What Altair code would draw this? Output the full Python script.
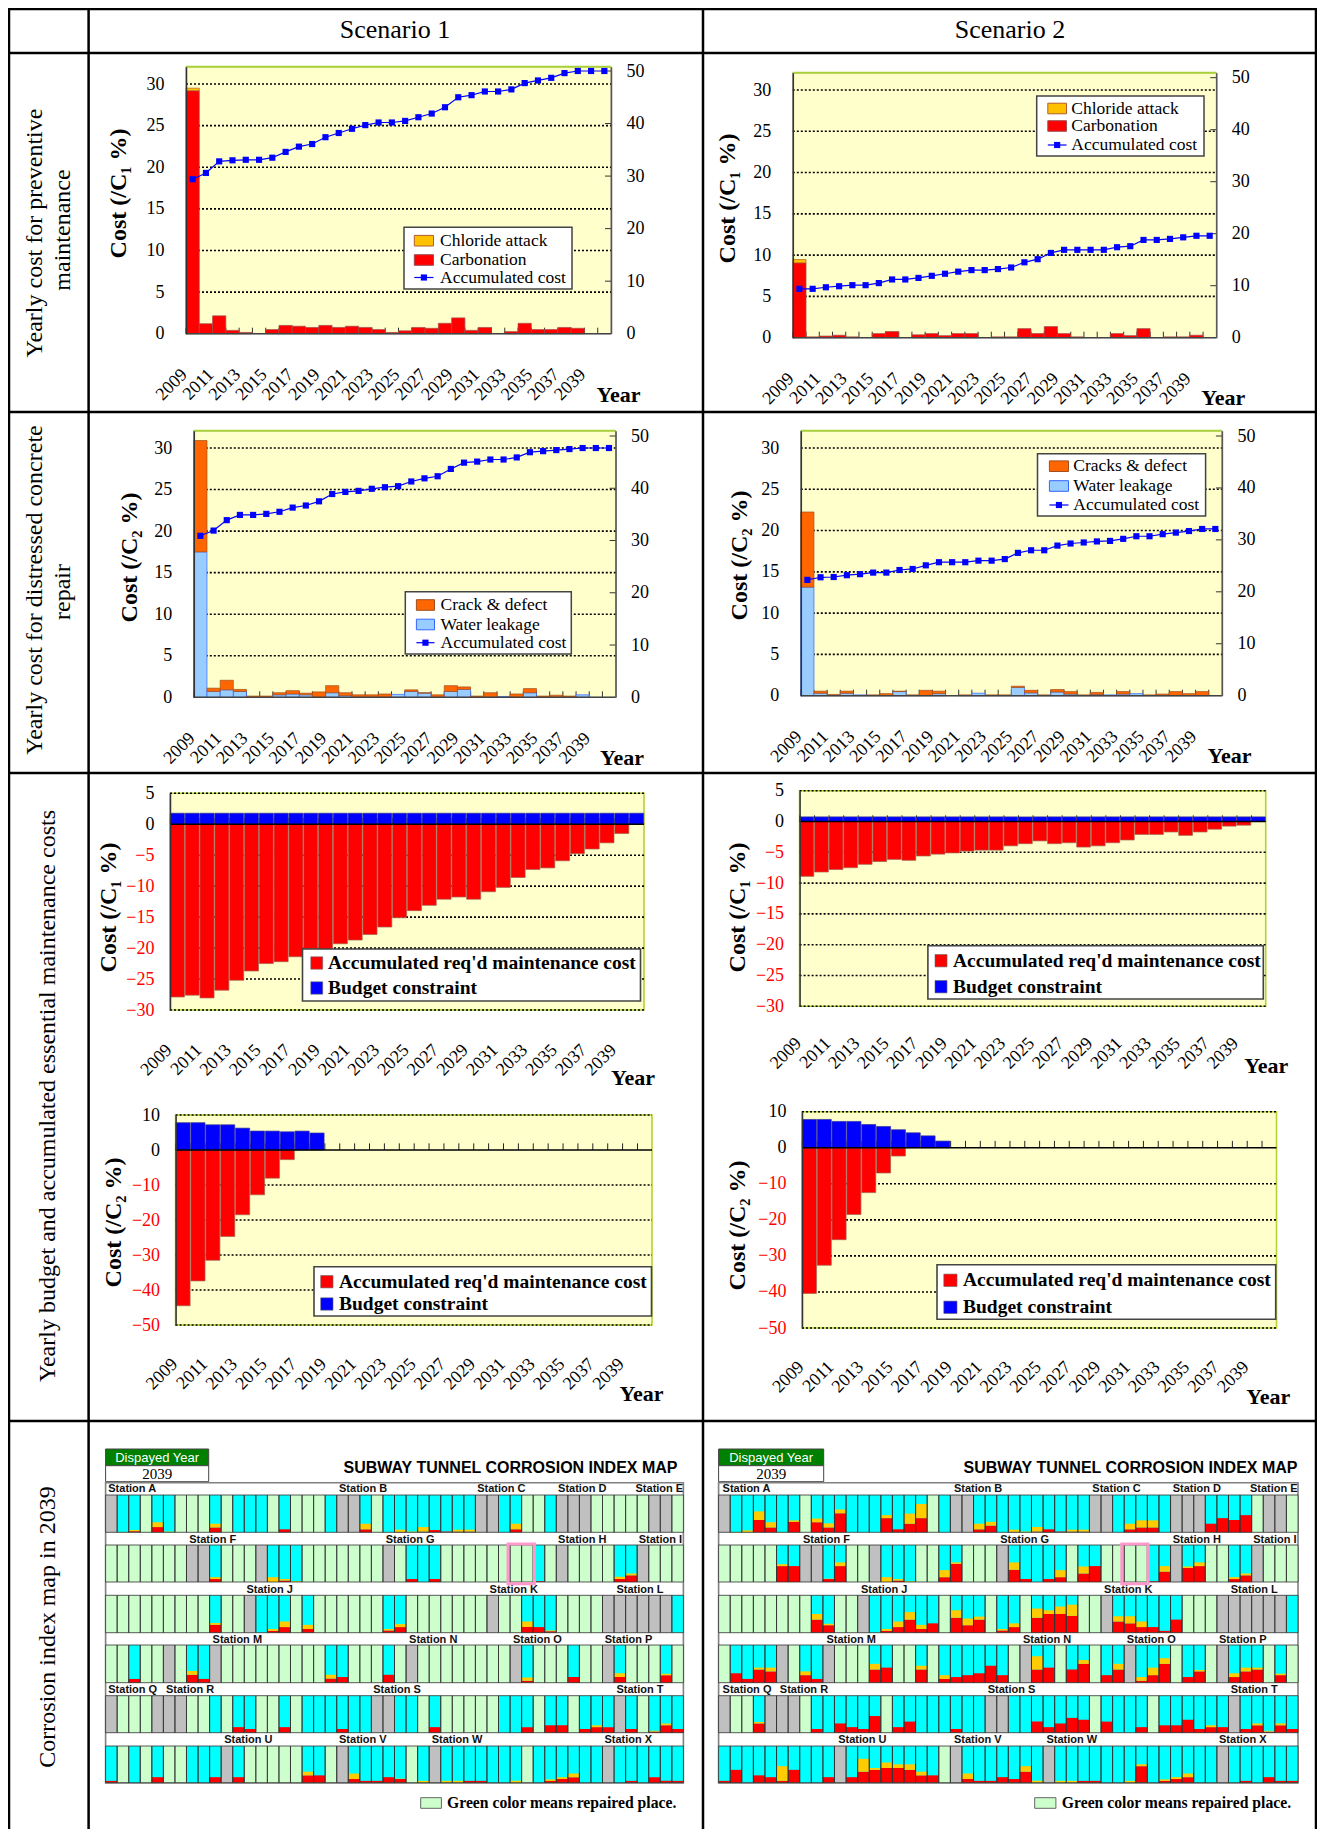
import altair as alt
import pandas as pd

# ---------- data: yearly cost panels ----------
years = [str(y) for y in range(2009, 2041)]
odd_years = [str(y) for y in range(2009, 2040, 2)]

s1_carbonation = [29.2,1.2,2.15,0.4,0.15,0,0.5,1.0,0.9,0.75,1.0,0.75,0.9,0.75,0.5,0.15,0.35,0.75,0.65,1.25,1.9,0.4,0.75,0,0.25,1.25,0.5,0.5,0.75,0.65,0,0]
s1_chloride = [0.3]+[0]*31
s1_accum = [29.4,30.6,32.8,33.0,33.1,33.1,33.5,34.6,35.6,36.1,37.4,38.2,39.0,39.7,40.2,40.2,40.5,41.2,41.9,43.1,45.0,45.4,46.1,46.1,46.5,47.7,48.2,48.7,49.6,50,50,50]

s2_carbonation = [9.07,0.1,0.2,0.3,0.1,0,0.5,0.75,0,0.35,0.5,0.25,0.5,0.5,0,0.1,0.1,1.1,0.5,1.35,0.5,0.1,0,0,0.5,0.25,1.1,0,0.1,0.1,0.3,0]
s2_chloride = [0.4]+[0]*31
s2_accum = [9.4,9.4,9.7,9.9,10.1,10.1,10.5,11.2,11.2,11.5,11.9,12.3,12.7,13.0,13.0,13.2,13.5,14.5,15.1,16.3,16.9,16.9,16.9,16.9,17.4,17.6,18.8,18.8,19.0,19.3,19.6,19.6]

s1_leak = [17.5,0.7,0.9,0.7,0,0,0.3,0.4,0.3,0,0.55,0.2,0,0,0,0.35,0.7,0.5,0,0.7,0.95,0,0,0.1,0,0.55,0,0,0,0.3,0,0]
s1_crack = [13.4,0.4,1.15,0.25,0.15,0.15,0.25,0.4,0.2,0.65,0.85,0.35,0.3,0.3,0.4,0,0.2,0.05,0.3,0.7,0.3,0.15,0.55,0,0.4,0.5,0.15,0.25,0.15,0,0,0]
s1_accum2 = [30.9,31.9,33.9,34.9,34.9,35.1,35.5,36.3,36.7,37.5,38.9,39.3,39.5,39.9,40.2,40.4,41.3,41.9,42.3,43.7,44.9,45.1,45.5,45.5,45.9,46.9,47.1,47.3,47.5,47.7,47.7,47.7]

s2_leak = [13.15,0.3,0,0.3,0.1,0,0,0.5,0,0,0.25,0,0,0.3,0,0,1.0,0.35,0,0.45,0.2,0,0.15,0.1,0.2,0.25,0,0,0,0,0,0]
s2_crack = [9.1,0.25,0.15,0.25,0,0.1,0.25,0.05,0.1,0.65,0.3,0,0.1,0,0.1,0.1,0.15,0.3,0.1,0.3,0.3,0.1,0.25,0,0.3,0,0.1,0.2,0.5,0.25,0.5,0]
s2_accum2 = [22.3,22.8,22.85,23.2,23.4,23.7,23.7,24.2,24.4,25.1,25.7,25.7,25.7,26.0,26.0,26.3,27.5,28.0,28.0,28.9,29.3,29.5,29.7,29.8,30.2,30.7,30.7,31.1,31.4,31.7,32.1,32.1]

# ---------- data: budget panels ----------
s1_req1 = [27.9,27.6,28.05,26.8,25.2,23.7,22.5,22.2,21.4,20.1,20.2,19.3,18.7,17.8,16.6,15.1,13.95,13.1,12.1,11.75,12.1,10.9,10.2,8.6,7.3,7.05,5.9,4.75,4.0,3.0,1.5,0]
s1_bud1 = [1.78]*32
s2_req1 = [8.9,8.2,7.8,7.5,6.95,6.5,6.15,6.3,5.6,5.3,5.1,4.8,4.65,4.65,3.95,3.6,3.15,3.6,3.45,4.15,3.95,3.45,3.0,2.1,2.1,1.7,2.25,1.7,1.25,0.75,0.6,0]
s2_bud1 = [0.75]*32
s1_req2 = [44.5,37.4,31.5,24.7,18.5,12.8,8.05,2.75]+[0]*24
s1_bud2 = [7.8,7.8,7.2,7.2,6.25,5.4,5.4,5.2,5.4,4.85]+[0]*22
s2_req2 = [40.4,32.6,25.5,18.5,12.45,7.0,2.3]+[0]*25
s2_bud2 = [7.85,7.85,7.3,7.3,6.45,5.9,5.0,4.15,3.3,1.85]+[0]*22

# ---------- data: corrosion index map ---------- G grey, L repaired, C in service; {cell:(yellow,red)}
map1_kinds = ["GCCLCCLLLC LCCCLCLLLC GGCLCCCCCC CCGGCCLLCG GGLLLLLGGL",
              "LLLLLLLGGC LLLGCCCLLL LLLLGLCCCL LLLLLLLCLG LLLLCCGLLL",
              "LLLLLLLLLC LLGCCCLCLL LLLLCCLLLL LLLGLLCCCL LLLGGGGGGC",
              "LLCLLGLCCG LLLLLLLLLC CLLLCLGLLL LLLLLGCLLL CLLGCLLLCL",
              "GLLLGGGLLC LCCLLCLCCC CCCGGCCLCL LLLLCCCLCC LCCCGCLCCC",
              "CLCLCLLCCC GCLLLLLCCL GCCCCCLCGC CCCCCCLCCC CCCGCCCCCC"]
map1_levels = [
 {1:(1,0),2:(3,3),4:(13,14),5:(2,0),9:(10,13),15:(0,8),22:(15,8),25:(6,1),26:(2,0),27:(12,2),28:(0,6),29:(0,2),30:(5,2),31:(5,2),35:(15,8)},
 {9:(5,8),14:(13,0),15:(4,4),16:(2,0),26:(0,8),28:(0,8),37:(0,2),44:(6,8),45:(5,18)},
 {9:(5,21),14:(5,5),15:(15,15),17:(11,10),24:(4,6),25:(8,15),36:(15,15),37:(0,15),38:(2,4)},
 {2:(0,10),7:(10,21),8:(0,10),19:(10,11),20:(0,15),24:(0,21),36:(9,5),40:(0,15),44:(10,15),48:(4,20)},
 {11:(0,15),12:(0,10),15:(0,15),20:(0,10),28:(0,15),36:(0,15),38:(0,20),39:(0,20),41:(0,10),42:(5,15),43:(0,15),45:(0,10),47:(2,3),48:(5,20),49:(0,10)},
 {0:(0,5),4:(0,15),9:(0,15),11:(0,15),17:(10,20),18:(0,20),21:(15,10),22:(0,5),23:(0,5),24:(0,15),25:(1,10),27:(5,0),29:(5,0),30:(5,0),31:(0,5),32:(0,5),35:(5,0),38:(4,5),39:(5,10),40:(10,15),45:(0,5),47:(0,15),48:(0,5),49:(0,5)},
]
map2_kinds = ["GCCCCCCLCC CCCCCCCCLC GGCCCCCCCC CCGGCCCCCG GGCCCCLGGL",
              "LLLLLCCGGC CLLGCCCLLC CLLLGCCCCC LCCLLLLCCG CCLLCCGLLL",
              "LLLLLLLLCC LLGCCCCCCL CCCLCCLCCC CLLGCCCCCC LLLGGGGGGC",
              "LCCCCGLCCG LLLCCLLCLC CCCCCLGCCL CCLCCGCCCL CCLGCCCLCL",
              "GLLCGGGLCC CCCCLCCCCC CCCGGCCCCC CCLCCCCLCC CCCCGCCCCC",
              "CCCCCCCCCC GCCCCCCCCL GCCCCCCCGC CCCCCCCCCC CCCGCCCCCC"]
map2_levels = [
 {1:(1,0),2:(5,0),3:(23,33),4:(14,13),5:(1,0),6:(4,28),8:(10,27),9:(11,13),10:(10,51),14:(8,38),15:(0,8),16:(27,23),17:(38,38),22:(15,8),23:(10,18),25:(6,1),26:(2,0),27:(12,2),28:(0,8),29:(0,2),30:(5,2),31:(5,2),35:(15,8),36:(19,13),37:(19,13),42:(0,23),43:(0,38),44:(0,33),45:(0,46)},
 {5:(5,43),6:(0,43),9:(1,8),10:(10,43),14:(13,0),15:(4,4),16:(2,0),19:(19,13),20:(4,49),25:(20,33),26:(0,8),28:(0,8),29:(19,13),31:(19,23),32:(0,43),37:(0,2),38:(15,28),40:(4,38),41:(10,43),44:(5,8),45:(5,18)},
 {8:(15,35),9:(4,20),14:(5,5),15:(15,15),16:(20,35),17:(11,10),18:(0,25),20:(20,40),21:(18,20),22:(8,35),24:(4,6),25:(10,15),27:(25,40),28:(10,50),29:(20,50),30:(30,45),34:(14,30),35:(19,25),36:(15,15),37:(0,15),38:(0,5),39:(0,35)},
 {1:(0,25),2:(0,10),3:(5,35),4:(10,30),7:(10,20),8:(0,10),13:(15,35),14:(0,40),17:(10,35),19:(10,10),20:(0,15),21:(0,20),22:(0,25),23:(0,45),24:(0,20),27:(35,35),28:(0,40),30:(0,35),31:(10,50),33:(0,20),34:(15,35),36:(10,5),37:(20,20),38:(15,50),40:(0,15),41:(4,30),44:(10,15),45:(10,30),46:(5,35),48:(4,20)},
 {3:(4,25),8:(0,10),10:(0,25),11:(0,15),12:(0,10),13:(0,45),15:(0,15),16:(0,30),20:(0,10),27:(0,30),28:(0,15),29:(0,25),30:(0,40),31:(0,35),33:(0,30),36:(0,15),38:(0,20),39:(0,20),40:(0,35),41:(0,10),42:(5,15),43:(0,15),45:(0,10),46:(5,20),47:(2,3),48:(5,20),49:(0,10)},
 {0:(0,5),1:(0,35),3:(0,20),4:(0,15),5:(40,5),6:(0,35),9:(0,15),11:(0,15),12:(35,30),13:(5,35),14:(15,40),15:(10,40),16:(15,35),17:(10,20),18:(0,20),21:(15,10),22:(0,5),23:(0,5),24:(0,15),25:(0,10),26:(15,30),27:(5,0),29:(5,0),30:(5,0),31:(0,5),32:(0,5),35:(5,0),36:(5,45),38:(4,5),39:(5,10),40:(10,15),45:(0,5),47:(0,15),48:(0,5),49:(0,5)},
]
station_rows = [[("Station A",47),("Station B",640),("Station C",995),("Station D",1203),("Station E",1402)],
                [("Station F",255),("Station G",760),("Station H",1203),("Station I",1410)],
                [("Station J",402),("Station K",1027),("Station L",1353)],
                [("Station M",315),("Station N",820),("Station O",1087),("Station P",1323)],
                [("Station Q",47),("Station R",195),("Station S",728),("Station T",1353)],
                [("Station U",345),("Station V",640),("Station W",878),("Station X",1322)]]
station_rows2 = [[("Station A",32),("Station B",622),("Station C",975),("Station D",1180),("Station E",1377)],
                 [("Station F",237),("Station G",740),("Station H",1180),("Station I",1385)],
                 [("Station J",385),("Station K",1005),("Station L",1328)],
                 [("Station M",297),("Station N",798),("Station O",1063),("Station P",1298)],
                 [("Station Q",32),("Station R",178),("Station S",708),("Station T",1328)],
                 [("Station U",327),("Station V",622),("Station W",858),("Station X",1298)]]

# ---------- helpers ----------
SERIF = "Liberation Serif"
SANS = "Liberation Sans"
O = 8
W, H = 1309, 1821
one = alt.Data(values=[{"a": 1}])
layers = []

def vrect(x0, y0, x1, y1, **mk):
    layers.append(alt.Chart(one).mark_rect(**mk).encode(
        x=alt.value(x0 - O), x2=alt.value(x1 - O), y=alt.value(y0 - O), y2=alt.value(y1 - O)))

def vrule(x0, y0, x1, y1, **mk):
    layers.append(alt.Chart(one).mark_rule(**mk).encode(
        x=alt.value(x0 - O), x2=alt.value(x1 - O), y=alt.value(y0 - O), y2=alt.value(y1 - O)))

def vtext(s, x, y, **mk):
    mk.setdefault("font", SERIF)
    mk.setdefault("baseline", "middle")
    mk.setdefault("color", "#000000")
    layers.append(alt.Chart(one).mark_text(**mk).encode(
        x=alt.value(x - O), y=alt.value(y - O), text=alt.value(s)))

def xscale(x0, x1, pad=0.0):
    return alt.Scale(type="band", domain=years, range=[x0 - O, x1 - O],
                     paddingInner=pad, paddingOuter=pad / 2)

def xaxis(x_pad, ybot, year_xy):
    return alt.Axis(values=odd_years, orient="bottom", bandPosition=0, labelAngle=315, labelAlign="right",
                    labelBaseline="middle", labelPadding=x_pad + 4, labelOffset=-8, tickSize=0, domain=False,
                    grid=False, offset=-(H - (ybot - O)), labelOverlap=False, zindex=1,
                    labelFontSize=18, title="Year", titleX=year_xy[0] - O, titleY=year_xy[1] - ybot,
                    titleAngle=0, titleAlign="center", titleBaseline="middle",
                    titleFontSize=22, titleFontWeight="bold")

def yaxis(vals, x0, pad, title, title_xy, colored=False):
    kw = {}
    if colored:
        kw["labelColor"] = alt.expr("datum.value < 0 ? '#ff0000' : '#000000'")
    return alt.Axis(values=vals, orient="left", offset=-(x0 - O), tickSize=0, labelPadding=pad,
                    grid=False, domainColor="#333333", domainWidth=1.5, labelOverlap=False, zindex=1,
                    labelFontSize=18, title=title, titleX=title_xy[0] - x0, titleY=title_xy[1] - O,
                    titleAngle=270, titleAlign="center", titleBaseline="middle",
                    titleFontSize=24, titleFontWeight="bold", **kw)

def year_frame(**cols):
    d = pd.DataFrame(cols)
    d["year"] = years
    return d

def stacked_bars(df, lo, hi, col, xs, ys, stroke, x_axis=None, y_axis=None, opacity=1):
    return alt.Chart(df).mark_bar(color=col, stroke=stroke, strokeWidth=0.7, opacity=opacity).encode(
        x=alt.X("year:O", scale=xs, axis=x_axis),
        y=alt.Y(f"{lo}:Q", scale=ys, axis=y_axis),
        y2=alt.Y2(f"{hi}:Q"))

def cost_panel(x0, x1, ytop, ybot, y30, y50, lower, upper, accum, lo_c, lo_s, up_c, up_s,
               title, title_xy, year_xy, lpad, names, box, sw, txt_x, rows_y, ln_y, xpad=34):
    vrect(x0, ytop, x1, ybot, fill="#FFFFCC", stroke="#999999", strokeWidth=1)
    vrule(x0, ytop, x1, ytop, stroke="#A9D13B", strokeWidth=2)
    lmax = 30 * (ybot - ytop) / (ybot - y30)
    rmax = 50 * (ybot - ytop) / (ybot - y50)
    xs = xscale(x0, x1)
    ys = alt.Scale(domain=[0, lmax], range=[ybot - O, ytop - O], nice=False, zero=False)
    yr = alt.Scale(domain=[0, rmax], range=[ybot - O, ytop - O], nice=False, zero=False)
    major = [0, 5, 10, 15, 20, 25, 30]
    layers.append(alt.Chart(pd.DataFrame({"v": major[1:]})).mark_rule(
        stroke="#000000", strokeWidth=1.6, strokeDash=[2, 2]).encode(
        x=alt.value(x0 - O), x2=alt.value(x1 - O), y=alt.Y("v:Q", scale=ys, axis=None)))
    layers.append(alt.Chart(pd.DataFrame({"v": [10, 20, 30, 40, 50]})).mark_rule(
        stroke="#333333", strokeWidth=1).encode(
        x=alt.value(x1 - 6 - O), x2=alt.value(x1 - O), y=alt.Y("v:Q", scale=yr, axis=None)))
    d = year_frame(l0=[0] * 32, l1=lower, u1=[a + b for a, b in zip(lower, upper)], t=accum,
                   t0=[0] * 32, th=[6 / ((ybot - y30) / 30)] * 32)
    layers.append(alt.Chart(d).mark_rule(stroke="#333333", strokeWidth=1).encode(
        x=alt.X("year:O", scale=xs, axis=None, bandPosition=0),
        y=alt.Y("t0:Q", scale=ys, axis=None), y2=alt.Y2("th:Q")))
    nz = d
    layers.append(stacked_bars(nz[nz.l1 > 0], "l0", "l1", lo_c, xs, ys, lo_s))
    layers.append(stacked_bars(nz[nz.u1 > nz.l1], "l1", "u1", up_c, xs, ys, up_s))
    layers.append(alt.Chart(d).mark_bar(opacity=0).encode(
        x=alt.X("year:O", scale=xs, axis=xaxis(xpad, ybot, year_xy)),
        y=alt.Y("l0:Q", scale=ys, axis=yaxis(major, x0, lpad, title, title_xy)),
        y2=alt.Y2("t0:Q")))
    layers.append(alt.Chart(pd.DataFrame({"v": [0]})).mark_rule(stroke="#444444", strokeWidth=1.4).encode(
        x=alt.value(x0 - O), x2=alt.value(x1 - O), y=alt.Y("v:Q", scale=ys, axis=None)))
    layers.append(alt.Chart(d).mark_line(color="#0000FF", strokeWidth=1.2).encode(
        x=alt.X("year:O", scale=xs, axis=None),
        y=alt.Y("t:Q", scale=yr, axis=alt.Axis(values=[0, 10, 20, 30, 40, 50], orient="right",
                offset=-(W - (x1 - O)), tickSize=0, labelPadding=15, grid=False, domainColor="#555555",
                domainWidth=1.5, title=None, labelFontSize=18, labelOverlap=False, zindex=1))))
    layers.append(alt.Chart(d).mark_square(color="#0000FF", size=38, opacity=1).encode(
        x=alt.X("year:O", scale=xs, axis=None), y=alt.Y("t:Q", scale=yr, axis=None)))
    # legend
    vrect(box[0], box[1], box[2], box[3], fill="#FFFFFF", stroke="#444444", strokeWidth=1.5)
    for nm, col, st, yy in ((names[0], up_c, up_s, rows_y[0]), (names[1], lo_c, lo_s, rows_y[1])):
        vrect(sw[0], yy - 5.3, sw[1], yy + 5.3, fill=col, stroke=st, strokeWidth=1)
        vtext(nm, txt_x, yy, fontSize=17.5, align="left")
    vrule(sw[0], ln_y, sw[1], ln_y, stroke="#0000FF", strokeWidth=1.2)
    layers.append(alt.Chart(one).mark_square(color="#0000FF", size=38, opacity=1).encode(
        x=alt.value((sw[0] + sw[1]) / 2 - O), y=alt.value(ln_y - O)))
    vtext(names[2], txt_x, ln_y, fontSize=17.5, align="left")

def budget_panel(x0, x1, ytop, ybot, lo, hi, req, bud, ticks, title, title_xy, year_xy, lpad,
                 box, sw, txt_x, rows_y, xpad, th):
    vrect(x0, ytop, x1, ybot, fill="#FFFFCC", stroke="#B5D334", strokeWidth=1.6)
    xs = xscale(x0, x1, 0.05)
    ys = alt.Scale(domain=[lo, hi], range=[ybot - O, ytop - O], nice=False, zero=False)
    layers.append(alt.Chart(pd.DataFrame({"v": [t for t in ticks if t != 0]})).mark_rule(
        stroke="#000000", strokeWidth=1.6, strokeDash=[2, 2]).encode(
        x=alt.value(x0 - O), x2=alt.value(x1 - O), y=alt.Y("v:Q", scale=ys, axis=None)))
    d = year_frame(z=[0] * 32, r=[-v for v in req], b=bud, th=[th] * 32)
    layers.append(alt.Chart(d).mark_rule(stroke="#222222", strokeWidth=1).encode(
        x=alt.X("year:O", scale=xs, axis=None, bandPosition=0),
        y=alt.Y("z:Q", scale=ys, axis=None), y2=alt.Y2("th:Q")))
    layers.append(stacked_bars(d[d.r < 0], "z", "r", "#FF0000", xs, ys, "#A06050"))
    layers.append(stacked_bars(d[d.b > 0], "z", "b", "#0000FF", xs, ys, "#333399"))
    layers.append(alt.Chart(pd.DataFrame({"v": [0]})).mark_rule(stroke="#000000", strokeWidth=1.4).encode(
        x=alt.value(x0 - O), x2=alt.value(x1 - O), y=alt.Y("v:Q", scale=ys, axis=None)))
    layers.append(alt.Chart(d).mark_bar(opacity=0).encode(
        x=alt.X("year:O", scale=xs, axis=xaxis(xpad, ybot, year_xy)),
        y=alt.Y("z:Q", scale=ys, axis=yaxis(ticks, x0, lpad, title, title_xy, colored=True)),
        y2=alt.Y2("z:Q")))
    vrect(box[0], box[1], box[2], box[3], fill="#FFFFFF", stroke="#444444", strokeWidth=1.6)
    for nm, col, yy in (("Accumulated req'd maintenance cost", "#FF0000", rows_y[0]),
                        ("Budget constraint", "#0000FF", rows_y[1])):
        vrect(sw[0], yy - 6.2, sw[1], yy + 6.2, fill=col, stroke="#666666", strokeWidth=0.6)
        vtext(nm, txt_x, yy, fontSize=19.5, fontWeight="bold", align="left")

def corrosion_map(x0, x1, kinds, levels, stations, sx0, sxf, dy_x, title_x, pink, leg_sw, leg_x):
    row_y = [(1495, 1532.3), (1545, 1582), (1595.3, 1632.7), (1645, 1682.7), (1695.7, 1732.7), (1746, 1782.7)]
    lab_y = [1489, 1540.3, 1590.3, 1640.3, 1690.3, 1740]
    vrect(dy_x[0], 1449, dy_x[1], 1465.7, fill="#008000", stroke="#444444", strokeWidth=1)
    vrect(dy_x[0], 1465.7, dy_x[1], 1481.7, fill="#FFFFFF", stroke="#444444", strokeWidth=1)
    cx = (dy_x[0] + dy_x[1]) / 2
    vtext("Dispayed Year", cx, 1457.7, font=SANS, fontSize=13, color="#FFFFFF", align="center")
    vtext("2039", cx, 1474, fontSize=15, align="center")
    vtext("SUBWAY TUNNEL CORROSION INDEX MAP", title_x, 1468, font=SANS, fontWeight="bold",
          fontSize=16, align="right")
    vrect(x0, 1482.7, x1, 1783, fill="#FFFFFF", stroke="#808080", strokeWidth=1.6)
    dom = list(range(50))
    for i in range(6):
        ks = kinds[i].replace(" ", "")
        assert len(ks) == 50
        rec = []
        for c, k in enumerate(ks):
            rec.append({"cell": c, "y0": 0, "y1": 100, "kind": k})
            if c in levels[i]:
                yel, red = levels[i][c]
                if red:
                    rec.append({"cell": c, "y0": 0, "y1": red, "kind": "R"})
                if yel:
                    rec.append({"cell": c, "y0": red, "y1": red + yel, "kind": "Y"})
        df = pd.DataFrame(rec)
        xs = alt.Scale(type="band", domain=dom, range=[x0 - O, x1 - O], paddingInner=0, paddingOuter=0)
        ys = alt.Scale(domain=[0, 100], range=[row_y[i][1] - O, row_y[i][0] - O], nice=False, zero=False)
        layers.append(alt.Chart(df).mark_bar().encode(
            x=alt.X("cell:O", scale=xs, axis=None), y=alt.Y("y0:Q", scale=ys, axis=None), y2=alt.Y2("y1:Q"),
            color=alt.Color("kind:N", legend=None, scale=alt.Scale(
                domain=["G", "L", "C", "R", "Y"],
                range=["#C0C0C0", "#CCFFCC", "#00FFFF", "#FF0000", "#FFCC00"]))))
        out = df[df.y1 == 100]
        layers.append(alt.Chart(out).mark_bar(fillOpacity=0, stroke="#303030", strokeWidth=0.8).encode(
            x=alt.X("cell:O", scale=xs, axis=None), y=alt.Y("y0:Q", scale=ys, axis=None), y2=alt.Y2("y1:Q")))
        for nm, zx in stations[i]:
            vtext(nm, sx0 + zx / sxf, lab_y[i], font=SANS, fontWeight="bold", fontSize=11, align="left",
                  color="#111111")
    vrect(pink[0], 1544, pink[1], 1583.7, fillOpacity=0, stroke="#FF99CC", strokeWidth=3)
    vrect(leg_sw[0], 1797.7, leg_sw[1], 1808.3, fill="#CCFFCC", stroke="#666666", strokeWidth=1)
    vtext("Green color means repaired place.", leg_x, 1803, fontWeight="bold", fontSize=15.7, align="left")

# ---------- table frame ----------
for yy in (9, 53, 412, 773, 1421):
    vrule(8, yy, 1317, yy, stroke="#000000", strokeWidth=2.5)
for xx in (9, 88.6, 703, 1316):
    vrule(xx, 8, xx, 1829, stroke="#000000", strokeWidth=2.5)
vtext("Scenario 1", 395, 30, fontSize=26, align="center")
vtext("Scenario 2", 1010, 30, fontSize=26, align="center")
for s, x, y in (("Yearly cost for preventive", 35, 233), ("maintenance", 63, 230),
                ("Yearly cost for distressed concrete", 35, 590), ("repair", 63, 592),
                ("Yearly budget and accumulated essential maintenance costs", 48, 1096),
                ("Corrosion index map in 2039", 48, 1627)):
    vtext(s, x, y, fontSize=24, angle=270, align="center")

# ---------- panels ----------
C1 = "Cost (/C\u2081 %)"
C2 = "Cost (/C\u2082 %)"
n1 = ("Chloride attack", "Carbonation", "Accumulated cost")
cost_panel(186, 611, 66.7, 333.7, 84, 71, s1_carbonation, s1_chloride, s1_accum, "#FF0000", "#A05050", "#FFC000", "#B06030",
           C1, (118, 193), (618, 394), 22, n1, (404, 227.3, 572, 289), (414.3, 433.5), 440, (240.7, 260), 277.5)
cost_panel(792.8, 1216.3, 72.7, 337.7, 90, 77.7, s2_carbonation, s2_chloride, s2_accum, "#FF0000", "#A05050", "#FFC000", "#B06030",
           C1, (727, 198), (1222.7, 397), 22, n1, (1036.7, 96, 1204, 156), (1047.8, 1066.5), 1071.3, (108.5, 126), 145)
cost_panel(193.8, 615.6, 430.7, 697.3, 448, 436, s1_leak, s1_crack, s1_accum2, "#99CCFF", "#3366FF", "#FF6600", "#A05020",
           C2, (129, 557), (621.5, 757), 22, ("Crack & defect", "Water leakage", "Accumulated cost"),
           (405.3, 591.7, 571.3, 654), (416.4, 434.5), 440.5, (605, 624.5), 642.7)
cost_panel(800.8, 1221.9, 430.7, 695.7, 448, 436, s2_leak, s2_crack, s2_accum2, "#99CCFF", "#3366FF", "#FF6600", "#A05020",
           C2, (739.8, 555), (1229, 755), 22, ("Cracks & defect", "Water leakage", "Accumulated cost"),
           (1037.5, 453.7, 1205.6, 516), (1049.4, 1068.5), 1073.3, (466.2, 486), 505)

t1 = [5, 0, -5, -10, -15, -20, -25, -30]
t2 = [10, 0, -10, -20, -30, -40, -50]
budget_panel(170, 644, 793.3, 1010, -30, 5, s1_req1, s1_bud1, t1, C1, (108, 907), (632.6, 1077), 16,
             (302.5, 949, 640.5, 1001), (310.8, 322.7), 328, (963, 988), 33, 1)
budget_panel(799.6, 1265.7, 790.7, 1006.3, -30, 5, s2_req1, s2_bud1, t1, C1, (737.8, 907), (1265.7, 1065), 16,
             (927.9, 945.7, 1263.3, 999), (935, 947), 953, (960.7, 986.7), 30, 1)
budget_panel(175.6, 652, 1115, 1325, -50, 10, s1_req2, s1_bud2, t2, C2, (113.6, 1222), (641, 1393), 16,
             (314, 1266.7, 651.5, 1316), (320.7, 333), 339, (1281.7, 1304), 32, 1.9)
budget_panel(802, 1276.5, 1111.7, 1328, -50, 10, s2_req2, s2_bud2, t2, C2, (737, 1225), (1267.7, 1396), 16,
             (937, 1264.7, 1275.7, 1319.3), (943.8, 957), 963, (1280.3, 1307.3), 32, 1.9)

corrosion_map(105.6, 683.4, map1_kinds, map1_levels, station_rows, 90, 2.57, (105.6, 208.7), 677.5,
              (508, 534.4), (420.7, 441.4), 447)
corrosion_map(718.6, 1298, map2_kinds, map2_levels, station_rows2, 710, 2.55, (718.6, 823.7), 1297.5,
              (1121.8, 1148), (1034.7, 1055.9), 1061.8)

chart = alt.layer(*layers).resolve_scale(x="independent", y="independent").properties(
    width=W, height=H, autosize=alt.AutoSizeParams(type="none"), padding=0, background="#FFFFFF"
).configure_view(stroke=None).configure_axis(
    labelFont=SERIF, titleFont=SERIF, labelColor="#000000", titleColor="#000000", labelLimit=0, titleLimit=0)

chart.save("out.html", embed_options={"renderer": "svg", "actions": False})
